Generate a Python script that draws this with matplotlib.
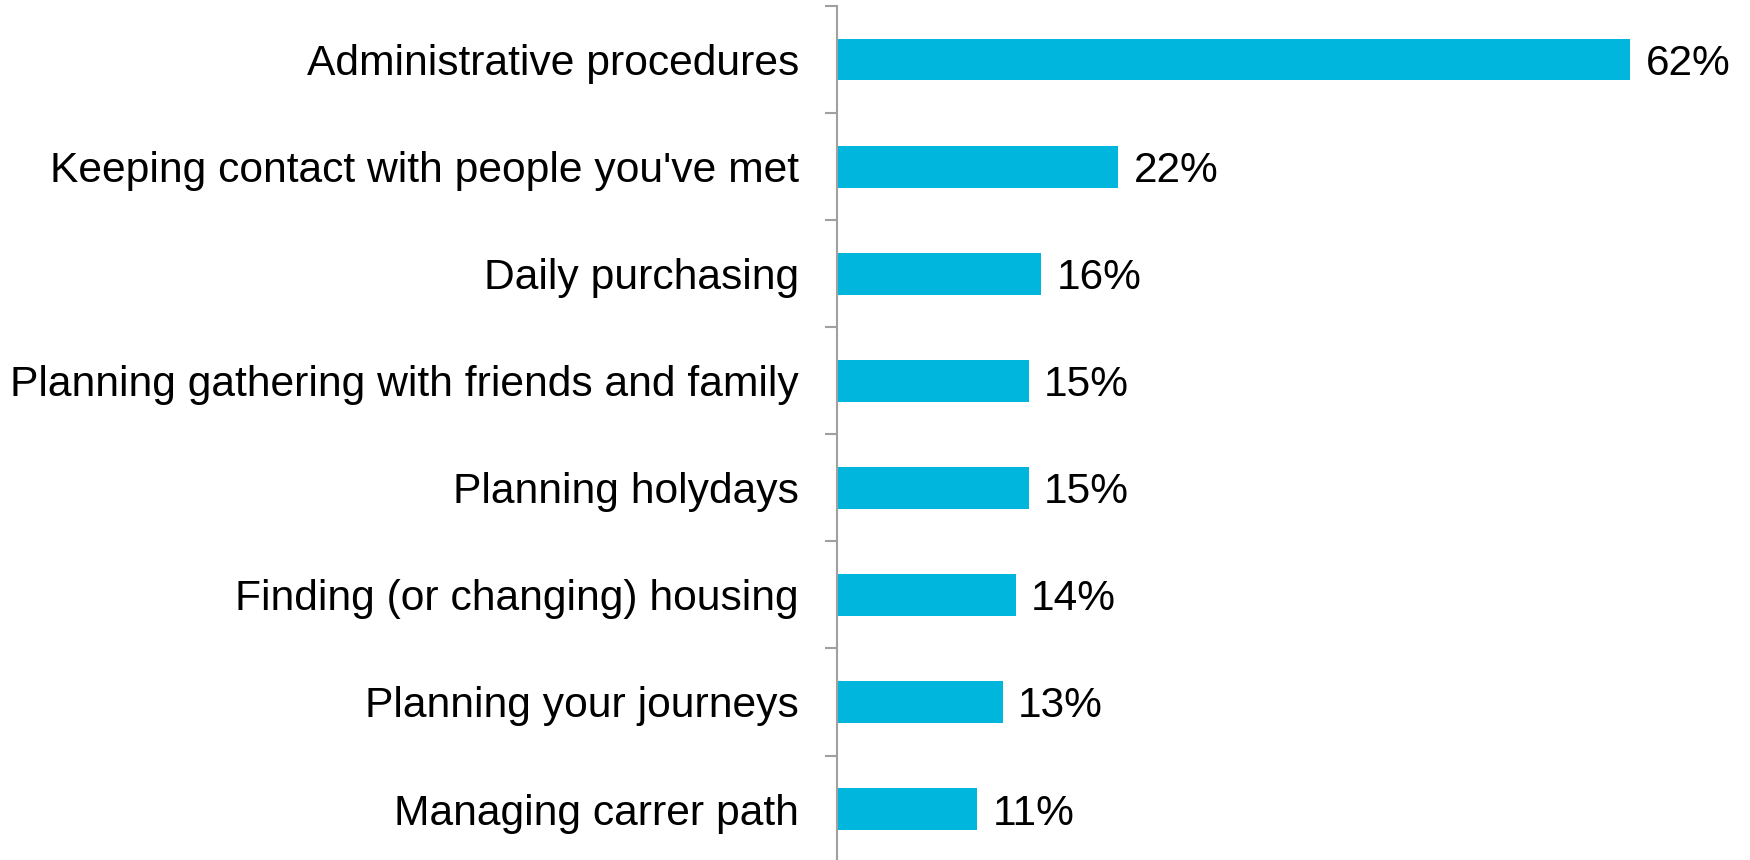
import matplotlib
matplotlib.use("Agg")
import matplotlib.pyplot as plt
import numpy as np

# Data
categories = [
    "Administrative procedures",
    "Keeping contact with people you've met",
    "Daily purchasing",
    "Planning gathering with friends and family",
    "Planning holydays",
    "Finding (or changing) housing",
    "Planning your journeys",
    "Managing carrer path",
]
values = [62, 22, 16, 15, 15, 14, 13, 11]

plt.rcParams['font.family'] = ['Liberation Sans', 'DejaVu Sans']

fig = plt.figure(figsize=(17.5, 8.6), dpi=100)
ax = fig.add_axes([0.478, -0.003, 0.512, 0.996])

y = np.arange(len(categories))
ax.barh(y, values, height=0.39, color='#00B6DD')

for yi, v in zip(y, values):
    ax.annotate(f"{v}%", (v, yi), xytext=(11, 0), textcoords='offset points',
                va='center_baseline', ha='left', fontsize=30.5, color='black')

ax.set_ylim(len(categories) - 0.5, -0.5)
ax.set_xlim(0, 70)
ax.set_yticks(y)
ax.set_yticklabels(categories, fontsize=30.7, va='center_baseline')
ax.tick_params(axis='y', which='major', length=0, pad=27)
ax.set_yticks(np.arange(-0.5, len(categories) + 0.5, 1), minor=True)
ax.tick_params(axis='y', which='minor', length=9, width=1.5, color='#A0A0A0', direction='out')
ax.set_xticks([])

for s in ['top', 'right', 'bottom']:
    ax.spines[s].set_visible(False)
ax.spines['left'].set_color('#A0A0A0')
ax.spines['left'].set_linewidth(1.5)

fig.savefig("out.png", dpi=100)
